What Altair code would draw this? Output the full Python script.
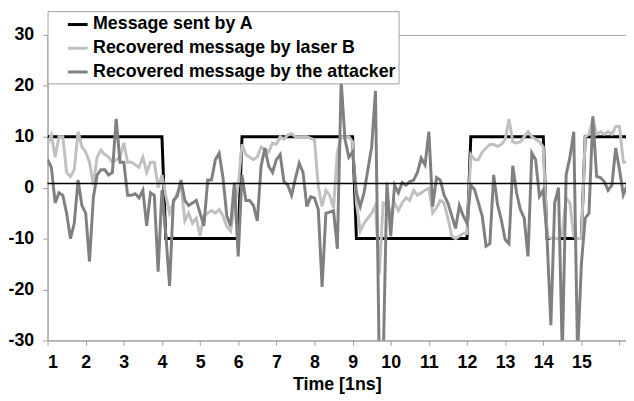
import altair as alt
import pandas as pd

# ---- data ----
series_names = ["Message sent by A", "Recovered message by laser B", "Recovered message by the attacker"]
series_colors = ["#000000", "#c0c0c0", "#808080"]

x_tick_values = [1, 2, 3, 4, 5, 6, 7, 8, 9, 10, 11, 12, 13, 14, 15, 16]
x_tick_labels = ["1", "2", "3", "4", "5", "6", "7", "8", "9", "10", "11", "12", "13", "14", "15", ""]
y_tick_values = [-30, -20, -10, 0, 10, 20, 30]

message_a = ([10] * 31 + [-10] * 20 + [10] * 30 + [-10] * 30 +
             [10] * 20 + [-10] * 10 + [10] * 12)

laser_b = [
    8.5, 10.4, 6, 10, 10, 3, 2.2, 3.5, 11, 8,
    7, 5, 0.5, 6, 7.4, 6.5, 6, 5, 5.5, 6,
    8.8, 5, 5, 4.5, 4, 6, 3, 5, 5, 0,
    2.5, -1.5, -5, -3, -1, 0.5, -6.5, -5, -7, -6,
    -9.5, -5.5, -5, -4.5, -5, -4.3, -5.5, -7.6, -8.5, -3.7,
    0.5, 8.5, 6.5, 6, 5.5, 6, 8, 7.5, 7, 8.8,
    8.5, 10, 9.5, 10.4, 10.6, 10, 10, 10, 10, 9.7,
    9.4, 0.3, -3.7, -0.5, -1.5, -4, 7, 10, 10, 10,
    9, -3, -8.5, -7, -6, -5, -3.5, -17, -3, -3.5,
    -5, -3, -4.5, -3, -2, -2.5, -0.5, -1.5, -1, -0.5,
    -0.1, -5, -4, -2.5, -3, -6, -9.5, -10, -9.5, -9,
    -9, 6.5, 5.5, 5.5, 7, 7.8, 8.5, 8.5, 8.1, 8.5,
    9.4, 13.5, 9, 8.8, 9, 10, 11, 10, 9.5, 9,
    8, -9.5, -10, -10, -10, -9, -2, -3, -9.5, -10,
    -10, 10, 10.5, 13.5, 10.5, 11, 10.5, 11, 10.5, 12,
    12, 5, 5,
]

attacker = [
    5.5, 4, -3, -1, -1.5, -5, -10, -7, 1.5, -3.5,
    -5, -14.5, -2, 2.5, 3.5, 3.5, 2.5, 3, 13.5, 5,
    5, -1.5, -1.5, -1.2, -2, -0.5, -7.5, -1, -1.5, -16.5,
    -0.5, -9, -19.3, -2.5, -1.7, 1.5, -2.5, -3.5, -3, -2.5,
    -5, -7.5, 1.5, 1.5, 5.5, 6.8, 2, -5.5, -7.5, 1,
    -13.5, 2.5, -2.5, -2.5, -3.5, -6.5, 4.2, 7.8, 4.2, 3,
    5.5, 6.5, 1.2, 0.5, -1.5, 1.8, 4.8, 3, -3.7, -1.8,
    -2, -4.3, -19.5, -5, -4.8, -4.5, -12, 21, 9.5, 6,
    7, -1, -3.7, -1, 3.5, 8, 19, -35, -35, 1,
    -9.5, 0.5, -1, 1, 0.5, 1.2, 1.5, 3, 5.8, 4.5,
    11, -3.7, 2, 1.5, -1.5, -3, -5.5, -8, -3.5, -5.5,
    -7, 0.5, -0.4, -3, -5.6, -11.5, -11, 2.5, -3.3, -6.3,
    -10.2, -11, 4.3, -1, -4.3, -6, -13.5, 6.8, 5.5, -1.7,
    -0.5, -10, -27, -3, 0, -33, 2.5, 6, 11, -33,
    -15, -6, -5, 14, 2.2, 2, 1.2, -0.5, 0.5, 7.8,
    3.5, -1.4, 0.5,
]

zero_line = [0.8]

n = min(len(message_a), len(laser_b), len(attacker))
time_ns = [round(1 + 0.1 * i, 1) for i in range(n)]

rows = []
for name, vals in zip(series_names, [message_a, laser_b, attacker]):
    for t, v in zip(time_ns, vals[:n]):
        rows.append({"t": t, "v": v, "series": name})
df = pd.DataFrame(rows)
zero_df = pd.DataFrame({"v": zero_line})

FONT = "Liberation Sans"
FS = 18

x_enc = alt.X(
    "t:Q",
    scale=alt.Scale(domain=[1, 16.17], nice=False, zero=False),
    axis=alt.Axis(
        values=x_tick_values,
        labelExpr="datum.value == 16 ? '' : '' + datum.value",
        title="Time [1ns]",
        titlePadding=5,
        labelPadding=8,
    ),
)
y_enc = alt.Y(
    "v:Q",
    scale=alt.Scale(domain=[-30, 30], nice=False),
    axis=alt.Axis(values=y_tick_values, title=None, labelPadding=9,
                  labelExpr="'' + datum.value"),
)
color_enc = alt.Color(
    "series:N",
    scale=alt.Scale(domain=series_names, range=series_colors),
    legend=alt.Legend(
        orient="none",
        legendX=0,
        legendY=-24,
        title=None,
        symbolType="stroke",
        symbolSize=400,
        symbolStrokeWidth=3,
        labelFont=FONT,
        labelFontWeight="bold",
        labelFontSize=FS,
        labelColor="#000000",
        labelLimit=600,
        labelExpr="datum.label + '\u00a0\u00a0\u00a0'",
        rowPadding=3,
        padding=2,
        symbolOffset=17,
        strokeColor="#a0a0a0",
        fillColor="#ffffff",
    ),
    sort=series_names,
)

layers = []
for name in series_names:
    layers.append(
        alt.Chart(df)
        .transform_filter(alt.datum.series == name)
        .mark_line(strokeWidth=3, clip=True)
        .encode(x=x_enc, y=y_enc, color=color_enc)
    )

zero_rule = alt.Chart(zero_df).mark_rule(color="#000000", strokeWidth=1.5).encode(y="v:Q")

chart = (
    alt.layer(layers[0], layers[1], layers[2], zero_rule)
    .properties(
        width=585,
        height=309,
        autosize=alt.AutoSizeParams(type="none"),
        padding={"left": 40, "top": 25, "right": 0, "bottom": 57},
    )
    .configure_view(stroke="#a0a0a0", strokeWidth=1)
    .configure_axis(
        grid=False,
        domainColor="#a0a0a0",
        tickColor="#a0a0a0",
        tickSize=5,
        labelFont=FONT,
        labelFontWeight="bold",
        labelFontSize=FS,
        labelColor="#000000",
        titleFont=FONT,
        titleFontWeight="bold",
        titleFontSize=FS,
        titleColor="#000000",
    )
)

chart.save("out.html", embed_options={"renderer": "svg", "actions": False})
